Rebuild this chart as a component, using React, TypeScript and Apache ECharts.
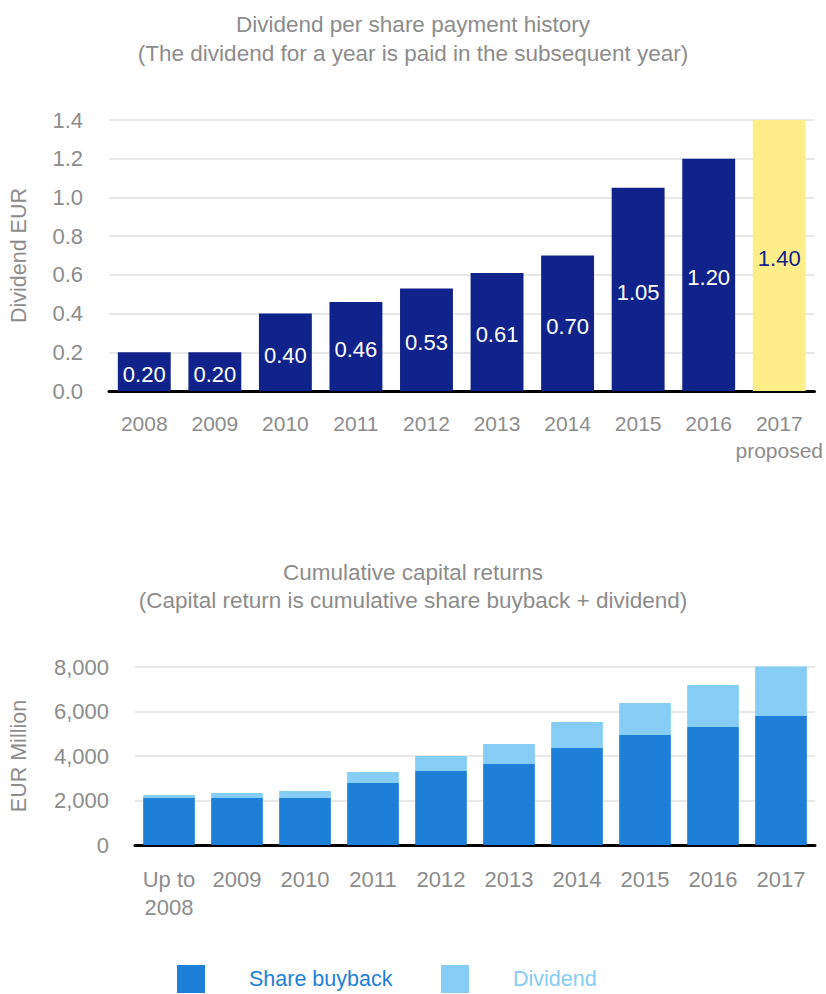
import React, { useEffect, useRef } from "react";
import * as echarts from "echarts";

const divYears = ["2008", "2009", "2010", "2011", "2012", "2013", "2014", "2015", "2016", "2017\nproposed"];
const divValues = [0.2, 0.2, 0.4, 0.46, 0.53, 0.61, 0.7, 1.05, 1.2, 1.4];

const capYears = ["Up to\n2008", "2009", "2010", "2011", "2012", "2013", "2014", "2015", "2016", "2017"];
const buybackValues = [2110, 2110, 2110, 2790, 3330, 3640, 4360, 4940, 5300, 5800];
const dividendValues = [140, 225, 315, 490, 670, 900, 1170, 1440, 1890, 2220];

const FONT = "Liberation Sans, Arial, Helvetica, sans-serif";
const GRAY = "#8c8c8c";
const NAVY = "#10238a";
const YELLOW = "#fdee8a";
const BLUE = "#1e7fd9";
const LIGHT = "#86cdf5";

export default function App() {
  const ref = useRef<HTMLDivElement>(null);
  useEffect(() => {
    if (!ref.current) return;
    const chart = echarts.init(ref.current, undefined, { renderer: "svg" });
    const axisLabel = { color: GRAY, fontSize: 22, fontFamily: FONT };
    chart.setOption({
      animation: false,
      textStyle: { fontFamily: FONT },
      title: [
        {
          text: "Dividend per share payment history\n(The dividend for a year is paid in the subsequent year)",
          left: 413,
          top: 10,
          textAlign: "center",
          padding: 0,
          textStyle: { color: GRAY, fontSize: 22.5, fontWeight: "normal", lineHeight: 29, fontFamily: FONT },
        },
        {
          text: "Cumulative capital returns\n(Capital return is cumulative share buyback + dividend)",
          left: 413,
          top: 558,
          textAlign: "center",
          padding: 0,
          textStyle: { color: GRAY, fontSize: 22.5, fontWeight: "normal", lineHeight: 28, fontFamily: FONT },
        },
      ],
      legend: [
        {
          left: 177,
          top: 965,
          padding: 0,
          itemWidth: 28,
          itemHeight: 28,
          icon: "rect",
          selectedMode: false,
          data: [{ name: "Share buyback", textStyle: { color: BLUE } }],
          textStyle: { fontSize: 21.5, fontFamily: FONT, padding: [0, 0, 0, 39] },
        },
        {
          left: 441,
          top: 965,
          padding: 0,
          itemWidth: 28,
          itemHeight: 28,
          icon: "rect",
          selectedMode: false,
          data: [{ name: "Dividend", textStyle: { color: LIGHT } }],
          textStyle: { fontSize: 21.5, fontFamily: FONT, padding: [0, 0, 0, 39] },
        },
      ],
      grid: [
        { left: 109, right: 11, top: 120, height: 271 },
        { left: 134, right: 11, top: 667, height: 178 },
      ],
      xAxis: [
        {
          type: "category",
          gridIndex: 0,
          data: divYears,
          axisTick: { show: false },
          axisLine: { lineStyle: { color: "#000", width: 3 } },
          axisLabel: { ...axisLabel, fontSize: 21, interval: 0, margin: 19, lineHeight: 27 },
        },
        {
          type: "category",
          gridIndex: 1,
          data: capYears,
          axisTick: { show: false },
          axisLine: { lineStyle: { color: "#000", width: 3 } },
          axisLabel: { ...axisLabel, interval: 0, margin: 20, lineHeight: 28 },
        },
      ],
      yAxis: [
        {
          type: "value",
          gridIndex: 0,
          min: 0,
          max: 1.4,
          interval: 0.2,
          name: "Dividend EUR",
          nameLocation: "middle",
          nameRotate: 90,
          nameGap: 79,
          nameTextStyle: { color: GRAY, fontSize: 21.5, fontFamily: FONT },
          axisLine: { show: false },
          axisTick: { show: false },
          splitLine: { lineStyle: { color: "#e0e0e0", width: 1.5 } },
          axisLabel: { ...axisLabel, margin: 26, formatter: (v: number) => v.toFixed(1) },
        },
        {
          type: "value",
          gridIndex: 1,
          min: 0,
          max: 8000,
          interval: 2000,
          name: "EUR Million",
          nameLocation: "middle",
          nameRotate: 90,
          nameGap: 105,
          nameTextStyle: { color: GRAY, fontSize: 21.5, fontFamily: FONT },
          axisLine: { show: false },
          axisTick: { show: false },
          splitLine: { lineStyle: { color: "#e0e0e0", width: 1.5 } },
          axisLabel: {
            ...axisLabel,
            margin: 26,
            formatter: (v: number) => v.toLocaleString("en-US"),
          },
        },
      ],
      series: [
        {
          type: "bar",
          xAxisIndex: 0,
          yAxisIndex: 0,
          barCategoryGap: "25%",
          data: divValues.map((v, i) =>
            i === divValues.length - 1
              ? { value: v, itemStyle: { color: YELLOW }, label: { color: NAVY } }
              : { value: v }
          ),
          itemStyle: { color: NAVY },
          label: {
            show: true,
            position: "inside",
            offset: [0, 3],
            color: "#fff",
            fontSize: 22,
            fontFamily: FONT,
            formatter: (p: any) => Number(p.value).toFixed(2),
          },
        },
        {
          name: "Share buyback",
          type: "bar",
          xAxisIndex: 1,
          yAxisIndex: 1,
          stack: "cap",
          clip: false,
          barCategoryGap: "24%",
          itemStyle: { color: BLUE },
          data: buybackValues,
        },
        {
          name: "Dividend",
          type: "bar",
          xAxisIndex: 1,
          yAxisIndex: 1,
          stack: "cap",
          clip: false,
          barCategoryGap: "24%",
          itemStyle: { color: LIGHT },
          data: dividendValues,
        },
      ],
    });
    return () => chart.dispose();
  }, []);
  return (
    <div
      ref={ref}
      style={{ position: "fixed", left: 0, top: 0, width: 826, height: 994, background: "#fff" }}
    />
  );
}
